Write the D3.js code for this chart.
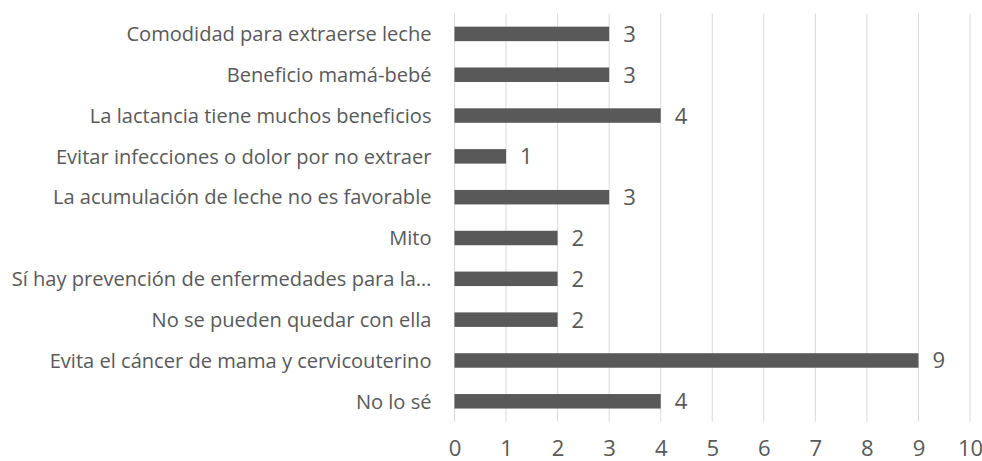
<!DOCTYPE html>
<html>
<head>
<meta charset="utf-8">
<script src="https://cdn.jsdelivr.net/npm/d3@7"></script>
<style>
  html, body { margin: 0; padding: 0; background: #fff; }
  text { font-family: "Open Sans", sans-serif; fill: #595959; }
</style>
</head>
<body>
<svg id="chart" width="982" height="461"></svg>
<script>
// Responses, listed top to bottom
const categories = [
  "Comodidad para extraerse leche",
  "Beneficio mamá-bebé",
  "La lactancia tiene muchos beneficios",
  "Evitar infecciones o dolor por no extraer",
  "La acumulación de leche no es favorable",
  "Mito",
  "Sí hay prevención de enfermedades para la…",
  "No se pueden quedar con ella",
  "Evita el cáncer de mama y cervicouterino",
  "No lo sé"
];
const counts = [3, 3, 4, 1, 3, 2, 2, 2, 9, 4];
const xTicks = [0, 1, 2, 3, 4, 5, 6, 7, 8, 9, 10];

const width = 982, height = 461;
const plot = { left: 454.5, right: 970, top: 13.5, bottom: 421.7 };

const svg = d3.select("#chart");

// Size the labels so the longest one fits in the left margin
const probe = svg.append("text").attr("font-size", 20).text(categories[6]);
const fontSize = 20 * 420 / probe.node().getComputedTextLength();
probe.remove();
const numSize = fontSize * 1.1;

const x = d3.scaleLinear().domain([0, 10]).range([plot.left, plot.right]);

const y = d3.scaleBand()
  .domain(categories)
  .range([plot.top, plot.bottom])
  .paddingInner(0.645)
  .paddingOuter(0.3225);

// Vertical gridlines
svg.append("g")
  .selectAll("line")
  .data(xTicks)
  .join("line")
  .attr("x1", d => x(d)).attr("x2", d => x(d))
  .attr("y1", plot.top).attr("y2", plot.bottom)
  .attr("stroke", "#d9d9d9")
  .attr("stroke-width", 1);

// Bars
svg.append("g")
  .selectAll("rect")
  .data(categories)
  .join("rect")
  .attr("x", x(0))
  .attr("y", d => y(d))
  .attr("width", (d, i) => x(counts[i]) - x(0))
  .attr("height", y.bandwidth())
  .attr("fill", "#595959");

// Value labels
svg.append("g")
  .selectAll("text")
  .data(categories)
  .join("text")
  .attr("x", (d, i) => x(counts[i]) + 14)
  .attr("y", d => y(d) + y.bandwidth() / 2)
  .attr("dy", "0.36em")
  .attr("font-size", numSize)
  .text((d, i) => counts[i]);

// Category labels
const yAxis = svg.append("g")
  .attr("transform", `translate(${x(0) - 23},0)`)
  .call(d3.axisLeft(y).tickSize(0).tickPadding(0));
yAxis.select(".domain").remove();
yAxis.selectAll("text")
  .attr("font-size", fontSize)
  .attr("dy", "0.36em")
  .style("font-family", "'Open Sans', sans-serif")
  .attr("fill", "#595959");

// Value axis labels
const xAxis = svg.append("g")
  .attr("transform", `translate(0,${plot.bottom})`)
  .call(d3.axisBottom(x).tickValues(xTicks).tickFormat(d3.format("d")).tickSize(0).tickPadding(0));
xAxis.select(".domain").remove();
xAxis.selectAll("text")
  .attr("y", 34)
  .attr("dy", 0)
  .attr("font-size", numSize)
  .style("font-family", "'Open Sans', sans-serif")
  .attr("fill", "#595959");
</script>
</body>
</html>
